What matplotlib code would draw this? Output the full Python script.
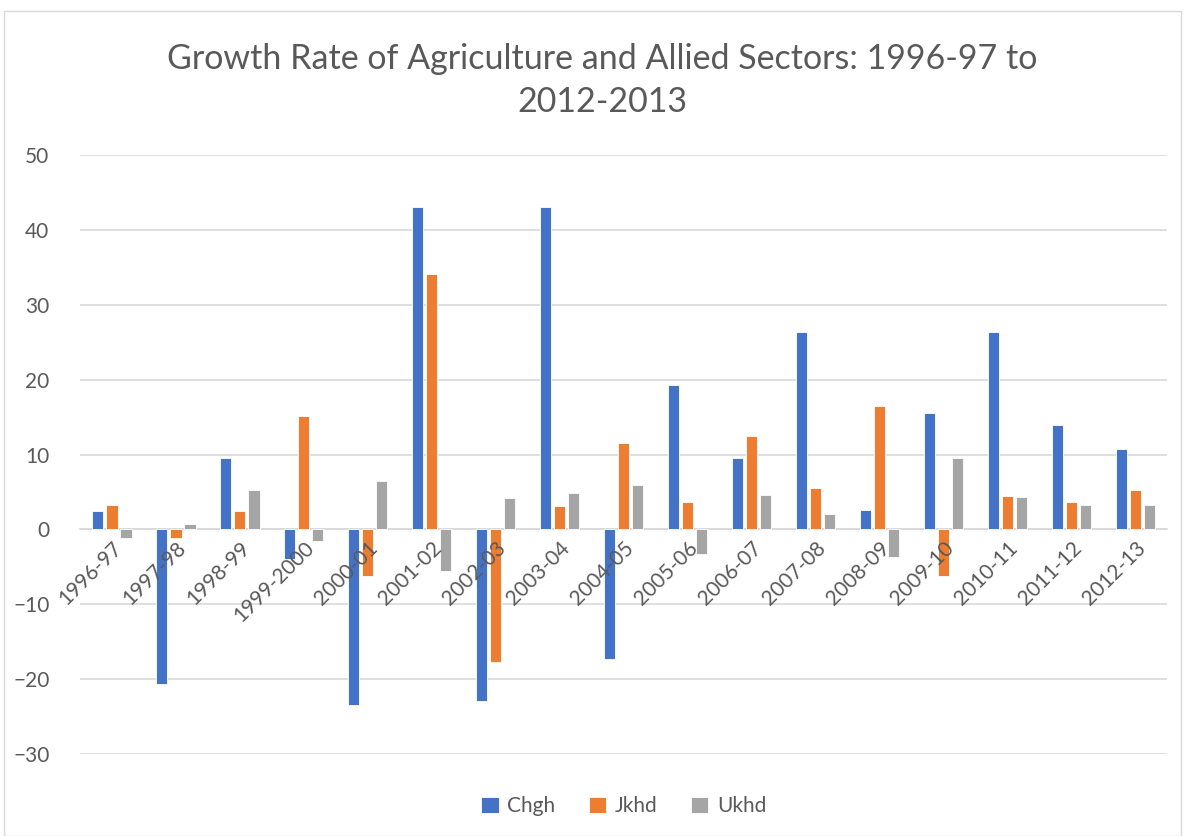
import numpy as np
import matplotlib
matplotlib.use("Agg")
import matplotlib.pyplot as plt
from matplotlib.patches import Rectangle

years = ["1996-97", "1997-98", "1998-99", "1999-2000", "2000-01", "2001-02",
         "2002-03", "2003-04", "2004-05", "2005-06", "2006-07", "2007-08",
         "2008-09", "2009-10", "2010-11", "2011-12", "2012-13"]

chgh = [2.5, -20.6, 9.5, -3.9, -23.4, 43.0, -22.9, 43.0, -17.3, 19.3,
        9.6, 26.3, 2.6, 15.6, 26.4, 14.0, 10.8]
jkhd = [3.2, -1.2, 2.5, 15.1, -6.2, 34.1, -17.7, 3.1, 11.5, 3.6,
        12.5, 5.5, 16.5, -6.2, 4.4, 3.7, 5.3]
ukhd = [-1.2, 0.7, 5.2, -1.5, 6.5, -5.5, 4.2, 4.8, 5.9, -3.3,
        4.6, 2.0, -3.7, 9.5, 4.3, 3.3, 3.3]

series = [("Chgh", chgh, "#4472c4"),
          ("Jkhd", jkhd, "#ed7d31"),
          ("Ukhd", ukhd, "#a5a5a5")]

plt.rcParams["font.family"] = ["Lato", "DejaVu Sans"]
grey = "#595959"

fig = plt.figure(figsize=(11.85, 8.36), dpi=100)
ax = fig.add_axes([0.0675, 0.098, 0.9175, 0.7166])

yticks = list(range(-30, 51, 10))
# gridlines behind the bars, category labels on top of them
for yv in yticks:
    ax.axhline(yv, color="#d9d9d9", linewidth=1.2, zorder=0)

x = np.arange(len(years))
width = 0.175
step = 0.22
for i, (name, vals, col) in enumerate(series):
    ax.bar(x + (i - 1) * step, vals, width, color=col, label=name,
           edgecolor="white", linewidth=0.6, zorder=2)

ax.set_xlim(-0.5, len(years) - 0.5)
ax.set_ylim(-30, 50)
ax.set_yticks(yticks)
ax.xaxis.set_zorder(4)

for s in ["top", "right", "left"]:
    ax.spines[s].set_visible(False)
ax.spines["bottom"].set_position(("data", 0))
ax.spines["bottom"].set_color("#d9d9d9")
ax.spines["bottom"].set_linewidth(1.2)
ax.spines["bottom"].set_zorder(1)

ax.set_xticks(x)
ax.set_xticklabels(years, rotation=45, ha="right", rotation_mode="anchor",
                   fontsize=15, color=grey)
ax.tick_params(axis="x", length=0, pad=6)
ax.tick_params(axis="y", length=0, labelsize=15, labelcolor=grey, pad=22)

fig.suptitle("Growth Rate of Agriculture and Allied Sectors: 1996-97 to\n2012-2013",
             x=0.508, y=0.948, va="top", fontsize=24.5, color=grey,
             linespacing=1.4)

ax.legend(loc="lower center", bbox_to_anchor=(0.5, -0.135), ncol=3,
          frameon=False, fontsize=15, labelcolor=grey, handlelength=0.85,
          handleheight=0.85, columnspacing=1.6, handletextpad=0.4)

fig.add_artist(Rectangle((0.003, 0.0), 0.994, 0.987, transform=fig.transFigure,
                         fill=False, edgecolor="#d9d9d9", linewidth=1))

fig.savefig("out.png", dpi=100)
